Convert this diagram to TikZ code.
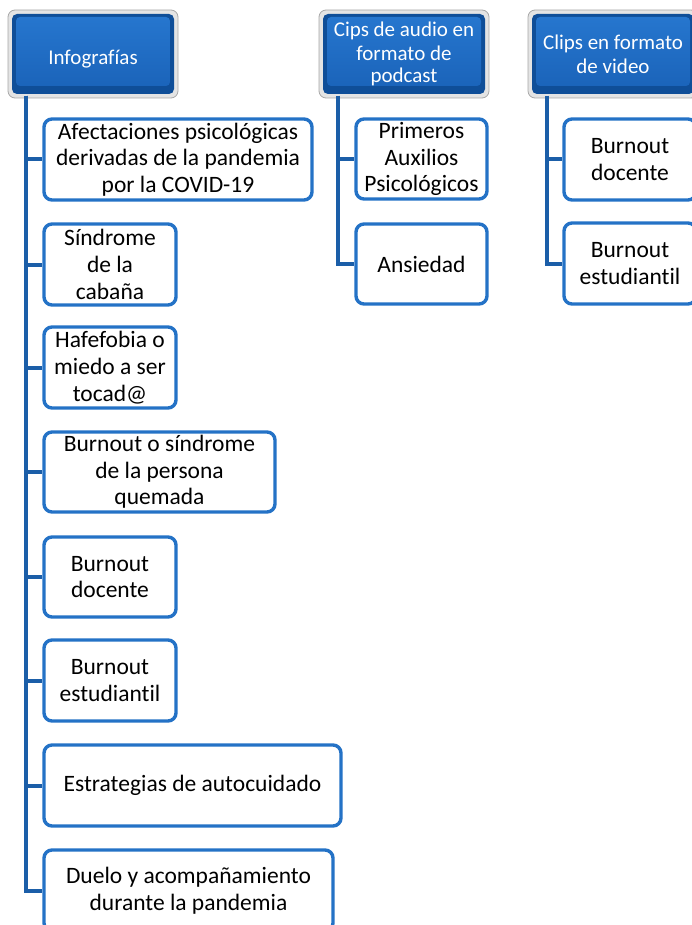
\documentclass[tikz,border=0pt]{standalone}
\usepackage{fontspec}
\setmainfont{Carlito}[Ligatures=NoCommon]
\definecolor{connblue}{HTML}{1B5EA8}
\definecolor{childblue}{HTML}{2472C6}
\definecolor{hdark}{HTML}{0F4E98}
\definecolor{htop}{HTML}{2676CE}
\definecolor{hbot}{HTML}{1B64BA}
\definecolor{hframe}{HTML}{E4E4E4}
\definecolor{hgray}{HTML}{A8A8A8}
\begin{document}
\begin{tikzpicture}[x=1pt,y=-1pt,
  childbox/.style={draw=childblue, line width=3.4pt, rounded corners=8pt, fill=white,
    align=center, inner sep=0pt, text=black,
    font=\fontsize{23.5}{26.7}\selectfont},
  header/.style={draw=hgray, line width=0.8pt, fill=hframe, rounded corners=7pt,
    minimum width=170pt, minimum height=88pt, inner sep=0pt, text=white, align=center,
    font=\fontsize{21}{24}\selectfont,
    path picture={
      \fill[hdark, rounded corners=5pt]
        ([shift={(4pt,-4pt)}]path picture bounding box.north west) rectangle
        ([shift={(-4pt,4pt)}]path picture bounding box.south east);
      \shade[top color=htop, bottom color=hbot, rounded corners=4pt]
        ([shift={(8pt,-7pt)}]path picture bounding box.north west) rectangle
        ([shift={(-8pt,12pt)}]path picture bounding box.south east);
    }},
  conn/.style={draw=connblue, line width=4pt}
]
\useasboundingbox (0,0) rectangle (692,925);
\clip (0,0) rectangle (692,925);

\coordinate (t1) at (26,96);
\coordinate (t2) at (338,96);
\coordinate (t3) at (547,96);

% headers
\node[header] (h1) at (93,54) {\rule{0pt}{24pt}Infografías};
\node[header] (h2) at (404,54) {Cips de audio en\\formato de\\[-2pt]podcast};
\node[header] (h3) at (613,54) {Clips en formato\\de video};

% column 1
\node[childbox, minimum width=268pt, minimum height=81pt] (a1) at (178,159.5)
  {Afectaciones psicológicas\\derivadas de la pandemia\\por la COVID-19};
\node[childbox, minimum width=132pt, minimum height=81pt] (a2) at (110,264.5)
  {Síndrome\\de la\\cabaña};
\node[childbox, minimum width=132pt, minimum height=81pt] (a3) at (110,367.5)
  {Hafefobia o\\miedo a ser\\tocad@};
\node[childbox, minimum width=231pt, minimum height=80pt] (a4) at (159.5,472)
  {Burnout o síndrome\\de la persona\\quemada};
\node[childbox, minimum width=132pt, minimum height=80pt] (a5) at (110,577)
  {Burnout\\docente};
\node[childbox, minimum width=132pt, minimum height=81pt] (a6) at (110,680.5)
  {Burnout\\estudiantil};
\node[childbox, minimum width=297pt, minimum height=81pt] (a7) at (192.5,785.5)
  {Estrategias de autocuidado};
\node[childbox, minimum width=289pt, minimum height=81pt] (a8) at (188.5,890.5)
  {Duelo y acompañamiento\\durante la pandemia};

% column 2
\node[childbox, minimum width=131pt, minimum height=80pt] (b1) at (421.5,159)
  {Primeros\\Auxilios\\Psicológicos};
\node[childbox, minimum width=131pt, minimum height=80pt] (b2) at (421.5,264)
  {Ansiedad};

% column 3
\node[childbox, minimum width=132pt, minimum height=81pt] (c1) at (630,159.5)
  {Burnout\\docente};
\node[childbox, minimum width=132pt, minimum height=81pt] (c2) at (630,263.5)
  {Burnout\\estudiantil};

% connectors
\foreach \c in {a1,a2,a3,a4,a5,a6,a7,a8}
  \draw[conn] (t1) |- (\c.west);
\foreach \c in {b1,b2}
  \draw[conn] (t2) |- (\c.west);
\foreach \c in {c1,c2}
  \draw[conn] (t3) |- (\c.west);
\end{tikzpicture}
\end{document}
